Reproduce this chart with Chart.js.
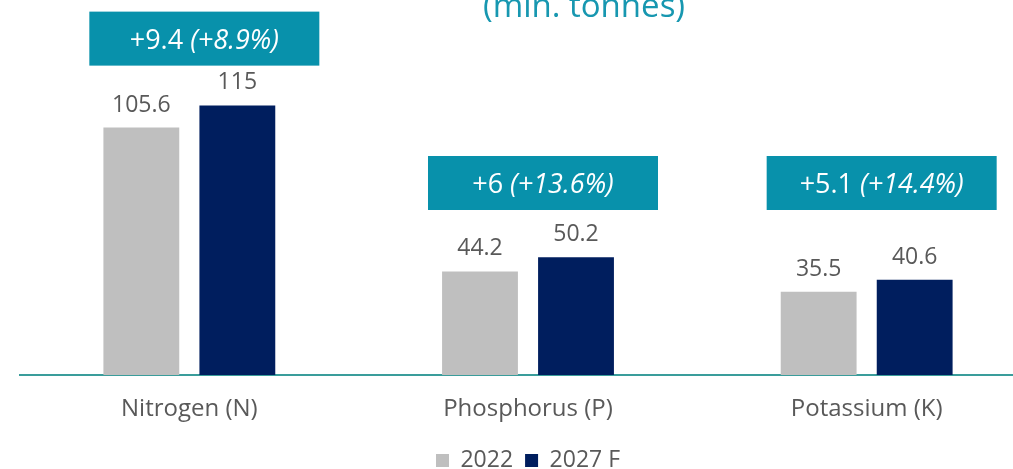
<!DOCTYPE html>
<html>
<head>
<meta charset="utf-8">
<script src="https://cdn.jsdelivr.net/npm/chart.js@4/dist/chart.umd.min.js"></script>
<style>
    html, body { margin: 0; padding: 0; background: #fff; overflow: hidden; }
    #wrap { width: 1013px; height: 469px; overflow: hidden; position: relative; }
    #chart { display: block; }
</style>
</head>
<body>
<div id="wrap">
    <canvas id="chart" width="1036" height="490"></canvas>
</div>
<script>
const categories = ['Nitrogen (N)', 'Phosphorus (P)', 'Potassium (K)'];
const seriesNames = ['2022', '2027 F'];
const demand2022 = [105.6, 44.2, 35.5];
const demand2027 = [115, 50.2, 40.6];
const changeAbs = ['+9.4', '+6', '+5.1'];
const changePct = ['(+8.9%)', '(+13.6%)', '(+14.4%)'];
const unitLabel = '(mln. tonnes)';

// where the change boxes sit: bottom edge in axis units
const boxBottom = [132, 70.4, 70.4];

const teal = '#0891ab';
const textGrey = '#595959';
const fontFamily = "'Open Sans', sans-serif";

Chart.defaults.font.family = fontFamily;

const changeBoxes = {
    id: 'changeBoxes',
    afterDatasetsDraw: function (chart) {
        const ctx = chart.ctx;
        const xScale = chart.scales.x;
        const yScale = chart.scales.y;
        ctx.save();

        // value above each bar
        ctx.font = '23px ' + fontFamily;
        ctx.fillStyle = textGrey;
        ctx.textAlign = 'center';
        ctx.textBaseline = 'alphabetic';
        chart.data.datasets.forEach((ds, di) => {
            chart.getDatasetMeta(di).data.forEach((bar, i) => {
                ctx.fillText(String(ds.data[i]), bar.x, bar.y - 16);
            });
        });

        // teal boxes with the change figures
        for (let i = 0; i < categories.length; i++) {
            const cx = xScale.getPixelForValue(i) + 15;
            const bottom = yScale.getPixelForValue(boxBottom[i]);
            const top = bottom - 54;
            ctx.fillStyle = teal;
            ctx.fillRect(cx - 115, top, 230, 54);

            const normalFont = '27px ' + fontFamily;
            const italicFont = 'italic 27px ' + fontFamily;
            const first = changeAbs[i] + ' ';
            ctx.font = normalFont;
            const w1 = ctx.measureText(first).width;
            ctx.font = italicFont;
            const w2 = ctx.measureText(changePct[i]).width;
            let x = cx - (w1 + w2) / 2;
            ctx.fillStyle = '#ffffff';
            ctx.textAlign = 'left';
            ctx.font = normalFont;
            ctx.fillText(first, x, top + 37);
            ctx.font = italicFont;
            ctx.fillText(changePct[i], x + w1, top + 37);
        }

        // unit line of the heading
        ctx.font = '33px ' + fontFamily;
        ctx.fillStyle = '#1797b0';
        ctx.textAlign = 'center';
        ctx.fillText(unitLabel, 584, 17);
        ctx.restore();
    }
};

new Chart(document.getElementById('chart'), {
    type: 'bar',
    data: {
        labels: categories,
        datasets: [
            {
                label: seriesNames[0],
                data: demand2022,
                backgroundColor: '#bfbfbf',
                barPercentage: 0.79,
                categoryPercentage: 0.567
            },
            {
                label: seriesNames[1],
                data: demand2027,
                backgroundColor: '#001e5e',
                barPercentage: 0.79,
                categoryPercentage: 0.567
            }
        ]
    },
    options: {
        responsive: false,
        animation: false,
        devicePixelRatio: 1,
        layout: {
            padding: { left: 20, right: 0, top: 0, bottom: 8 }
        },
        plugins: {
            tooltip: { enabled: false },
            legend: {
                position: 'bottom',
                labels: {
                    color: textGrey,
                    font: { size: 23 },
                    boxWidth: 13,
                    boxHeight: 13,
                    padding: 12
                }
            }
        },
        scales: {
            x: {
                grid: { display: false, drawTicks: false },
                border: { display: true, color: '#3a9d9b', width: 2 },
                ticks: {
                    color: textGrey,
                    font: { size: 24 },
                    padding: 20
                },
                afterFit: function (scale) {
                    scale.height = 62;
                }
            },
            y: {
                display: false,
                min: 0,
                max: 160
            }
        }
    },
    plugins: [changeBoxes]
});
</script>
</body>
</html>
